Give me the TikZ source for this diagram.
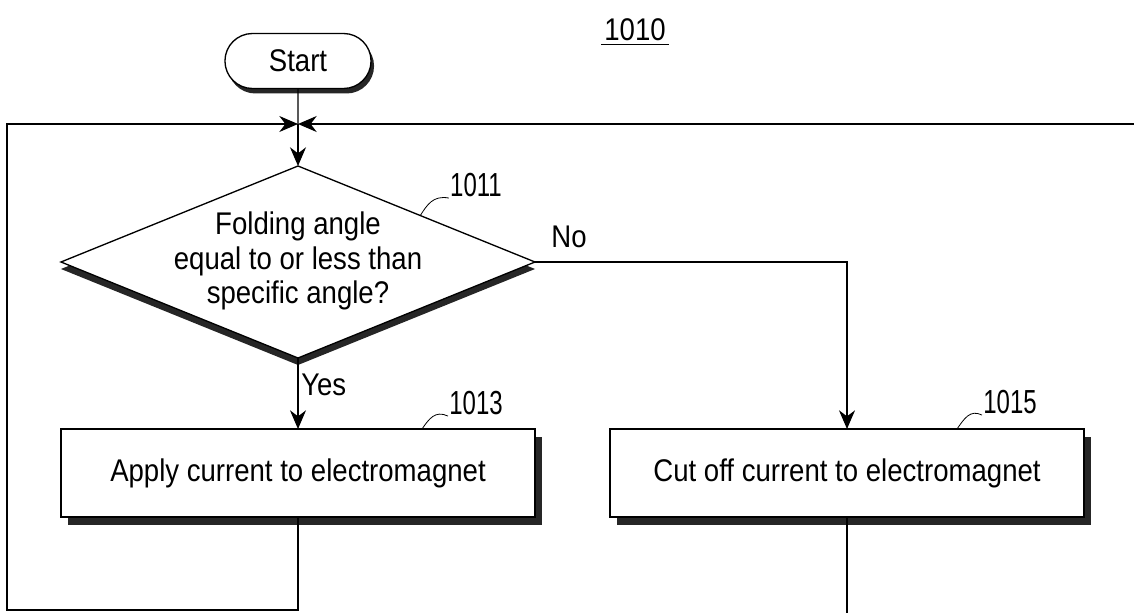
\documentclass[tikz,border=0pt]{standalone}
\usepackage{fontspec}
\setmainfont{Liberation Sans}[FakeStretch=0.88]
\newfontfamily\numfont{Liberation Sans}[FakeStretch=0.72]
\usetikzlibrary{shapes,arrows.meta,positioning,shadows}

\begin{document}
\begin{tikzpicture}[x=0.75pt,y=0.75pt,yscale=-1,xscale=1,
    flowtext/.style={font=\fontsize{23.5}{26}\selectfont},
    boxshadow/.style={drop shadow={shadow xshift=5.25pt,shadow yshift=-6pt,opacity=1,fill=black!85}},
    terminal/.style={draw,line width=1pt,fill=white,rounded rectangle,minimum width=116.25pt,minimum height=41.25pt,outer sep=0pt,flowtext,
        drop shadow={shadow xshift=2.25pt,shadow yshift=-3.75pt,opacity=1,fill=black!85}},
    decision/.style={draw,line width=1pt,fill=white,diamond,minimum width=355.5pt,minimum height=144pt,inner sep=0pt,outer sep=0pt,
        drop shadow={shadow xshift=0pt,shadow yshift=-5.25pt,opacity=1,fill=black!85}},
    process/.style={draw,line width=1pt,fill=white,rectangle,minimum width=355.5pt,minimum height=66pt,outer sep=0pt,flowtext,boxshadow},
    refnum/.style={font=\fontsize{25}{28}\selectfont\numfont,inner sep=0.75pt},
    flow/.style={line width=1pt,-{Stealth[length=14pt,width=12pt,inset=4.5pt]}},
    wire/.style={line width=1pt},
    leader/.style={line width=0.6pt}
]
    \useasboundingbox (0,0) rectangle (1134,613);

    % Figure Number
    \node[flowtext,inner sep=2.25pt] (fig) at (635,30) {1010};
    \draw[line width=0.8pt] (fig.south west) -- (fig.south east);

    % Flowchart: Terminator
    \node[terminal] (start) at (298,61) {Start};
    % Flowchart: Decision
    \node[decision] (dec) at (298,262) {};
    \node[flowtext,align=center] (dectext) at (298,261) {Folding angle\\equal to or less than\\specific angle?};
    % Flowchart: Process
    \node[process] (apply) at (298,473) {Apply current to electromagnet};
    \node[process] (cutoff) at (847,473) {Cut off current to electromagnet};

    % Loop Points
    \coordinate (junc) at (298,124);
    \coordinate (looptl) at (7,124);
    \coordinate (loopbl) at (7,610);
    \coordinate (rightend) at (1134,124);
    \coordinate (bottomend) at (847,613);

    % Straight Lines
    \draw[wire] (start) -- (junc);
    \draw[flow] (junc) -- (dec.north);
    \draw[flow] (dec.south) -- (apply.north);
    \draw[flow] (dec.east) -| (cutoff.north);
    \draw[flow] (apply.south) -- (apply.south |- loopbl) -- (loopbl) -- (looptl) -- (junc);
    \draw[flow] (rightend) -- (junc);
    \draw[wire] (cutoff.south) -- (bottomend);

    % Text Node
    \node[flowtext,anchor=west,inner sep=0.75pt] (yes) at (300,385) {Yes};
    \node[flowtext,inner sep=0.75pt] (no) at (569,237) {No};

    % Reference Numbers
    \node[refnum] (n1011) at (476,185) {1011};
    \node[refnum] (n1013) at (476,403) {1013};
    \node[refnum] (n1015) at (1010,402) {1015};
    \draw[leader] (420,216) .. controls (427,205) and (433,195) .. (n1011.south west);
    \draw[leader] (422,429) .. controls (429,419) and (435,410) .. (n1013.south west);
    \draw[leader] (957,429) .. controls (964,419) and (970,409) .. (n1015.south west);

\end{tikzpicture}
\end{document}
